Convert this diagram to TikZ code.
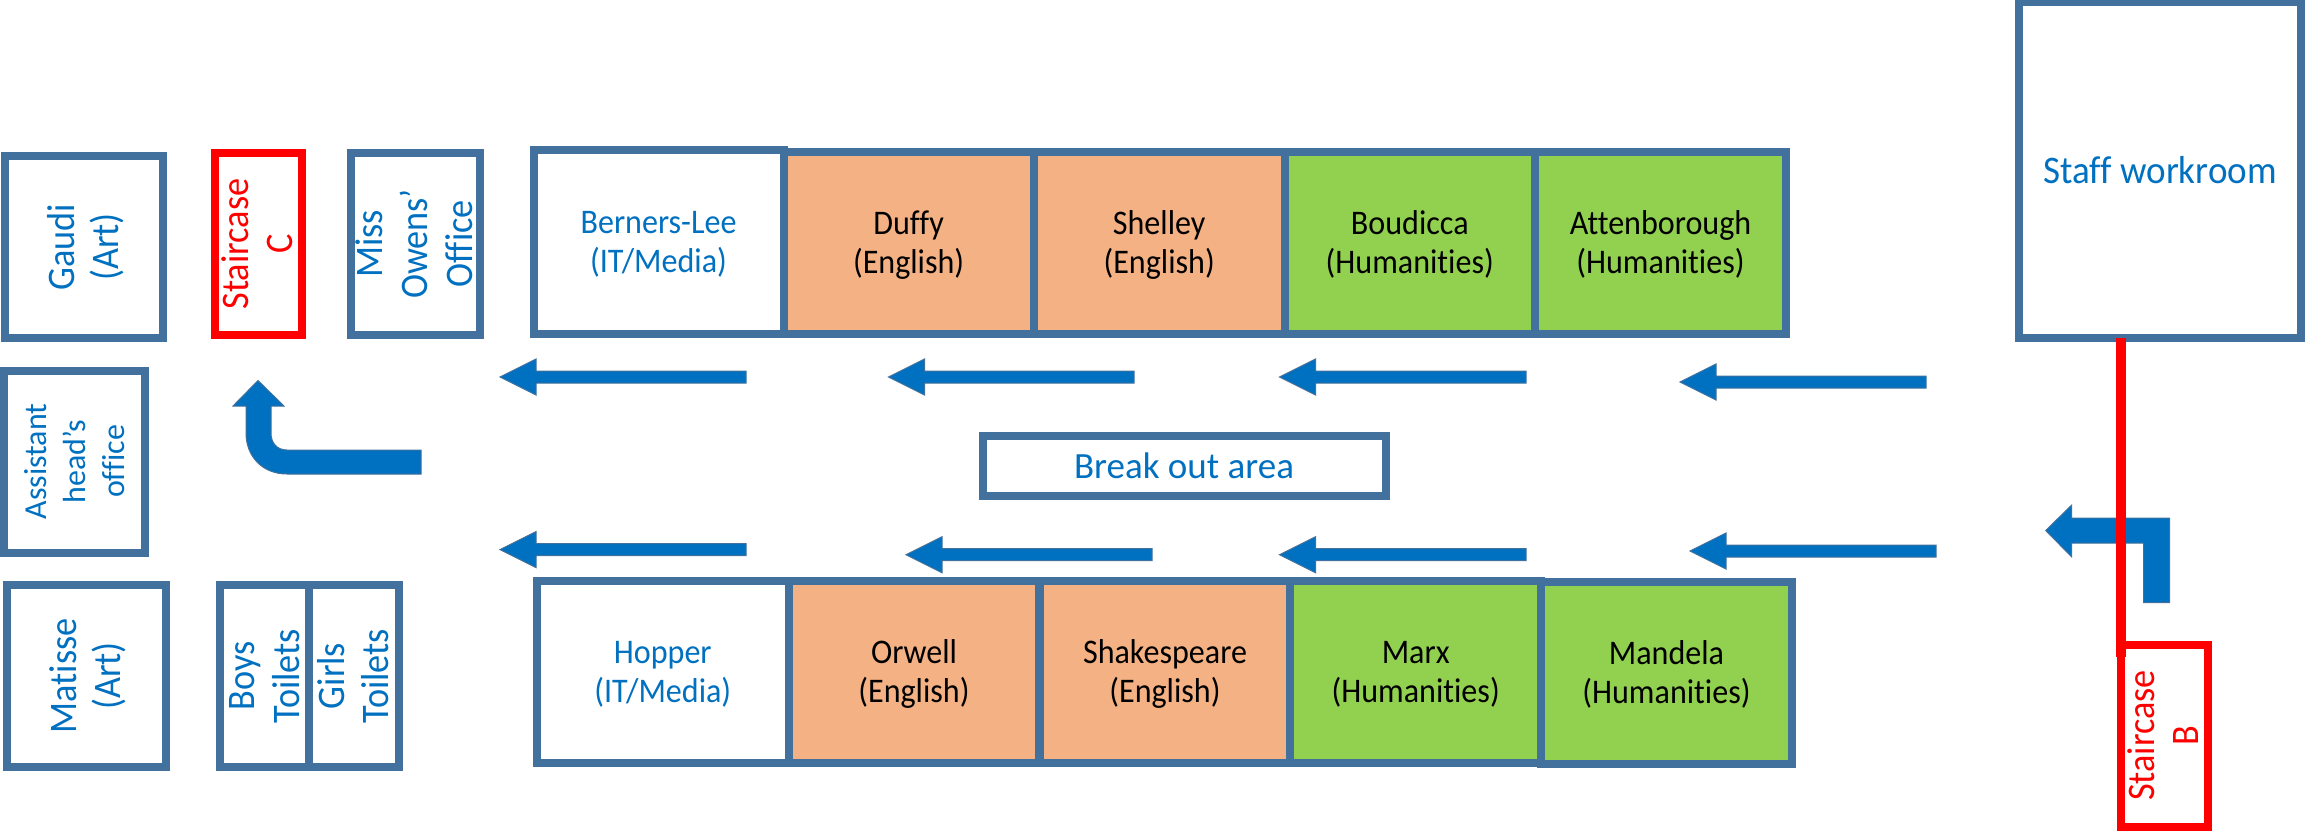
\documentclass[tikz,border=0pt]{standalone}
\usepackage{fontspec}
\setmainfont{Carlito}[Ligatures=NoCommon]
\newfontfamily\roomfont{Carlito}[Ligatures=NoCommon,FakeStretch=0.93]
\newfontfamily\sidefont{Carlito}[Ligatures=NoCommon,FakeStretch=0.93]
\newfontfamily\staffont{Carlito}[Ligatures=NoCommon,FakeStretch=0.95]
\definecolor{edge}{HTML}{41719C}
\definecolor{ink}{HTML}{0070C0}
\definecolor{peach}{HTML}{F4B183}
\definecolor{leaf}{HTML}{92D050}
\newcommand{\flow}[3]{\draw[flowarrow] (#1,#3) -- ++(36,-18) -- ++(0,12) -- (#2,#3-6) -- (#2,#3+6) -- (#1+36,#3+6) -- ++(0,12) -- cycle;}
\newsavebox{\linesbox}
\newcommand{\lines}[1]{\sbox{\linesbox}{\begin{tabular}{@{}c@{}}#1\end{tabular}}\raisebox{\dimexpr-3.5pt-(\ht\linesbox-\dp\linesbox)/2\relax}[0pt][0pt]{\usebox{\linesbox}}}
\tikzset{
  room/.style={draw=edge,line width=8pt,fill=white,text=ink,align=center,inner sep=0pt,outer sep=0pt,font=\roomfont\fontsize{34.5}{38.6}\selectfont},
  english/.style={room,fill=peach,text=black},
  humanities/.style={room,fill=leaf,text=black},
  stair/.style={room,draw=red,text=red},
  upright/.style={rotate=90,font=\sidefont\fontsize{39}{44.6}\selectfont},
  flowarrow/.style={fill=ink,draw=edge,line width=1pt},
  redline/.style={draw=red,line width=9.5pt},
}
\begin{document}
\begin{tikzpicture}[x=1pt,y=-1pt]
\useasboundingbox (0,0) rectangle (2305,832);
% left block
\node[room,upright,minimum width=182pt,minimum height=158pt] (gaudi) at (84,247) {\lines{Gaudi\\(Art)}};
\node[stair,upright,minimum width=182pt,minimum height=87pt] (stairC) at (258,244) {\lines{Staircase\\C}};
\node[room,upright,minimum width=182pt,minimum height=129pt] (owens) at (415,244) {\lines{Miss\\Owens’\\Office}};
\node[room,upright,font=\rmfamily\fontsize{32}{39.3}\selectfont,minimum width=182pt,minimum height=141pt] (assistant) at (74,461.5) {\lines{Assistant\\head’s\\office}};
\node[room,upright,minimum width=182pt,minimum height=159pt] (matisse) at (86,676) {\lines{Matisse\\(Art)}};
\node[room,upright,minimum width=182pt,minimum height=90pt] (boys) at (264.5,676) {\lines{Boys\\Toilets}};
\node[room,upright,minimum width=182pt,minimum height=90pt] (girls) at (354,676) {\lines{Girls\\Toilets}};
% top row
\node[room,minimum width=250pt,minimum height=183pt] (berners) at (658.5,242) {\lines{Berners-Lee\\(IT/Media)}};
\node[english,minimum width=250.3pt,minimum height=182pt] (duffy) at (908.65,243) {\lines{Duffy\\(English)}};
\node[english,minimum width=250.8pt,minimum height=182pt] (shelley) at (1159.2,243) {\lines{Shelley\\(English)}};
\node[humanities,minimum width=250.4pt,minimum height=182pt] (boudicca) at (1409.8,243) {\lines{Boudicca\\(Humanities)}};
\node[humanities,minimum width=251pt,minimum height=182pt] (attenborough) at (1660.5,243) {\lines{Attenborough\\(Humanities)}};
% bottom row
\node[room,minimum width=251.6pt,minimum height=182pt] (hopper) at (662.8,672) {\lines{Hopper\\(IT/Media)}};
\node[english,minimum width=250.9pt,minimum height=182pt] (orwell) at (914,672) {\lines{Orwell\\(English)}};
\node[english,minimum width=250.9pt,minimum height=182pt] (shakespeare) at (1165,672) {\lines{Shakespeare\\(English)}};
\node[humanities,minimum width=250.6pt,minimum height=182pt] (marx) at (1415.7,672) {\lines{Marx\\(Humanities)}};
\node[humanities,minimum width=251pt,minimum height=182pt] (mandela) at (1666.5,673) {\lines{Mandela\\(Humanities)}};
% middle
\node[room,font=\rmfamily\fontsize{37}{40}\selectfont,minimum width=403pt,minimum height=60pt] (breakout) at (1184,466) {Break out area};
\node[room,font=\staffont\fontsize{39}{42}\selectfont,minimum width=282pt,minimum height=335pt] (staff) at (2160,170) {Staff workroom};
% straight flow arrows
\flow{500}{746}{377}
\flow{888.5}{1134}{377}
\flow{1279.5}{1526}{377}
\flow{1680}{1926}{382}
\flow{500}{746}{549.6}
\flow{906}{1152}{554.7}
\flow{1279.5}{1526}{554.7}
\flow{1690}{1936}{551}
% bent arrows
\draw[flowarrow] (258,380.5) -- (284,406) -- (271,406) -- (271,433) .. controls (271,443) and (277,450) .. (287,450) -- (421,450) -- (421,474) -- (287,474) .. controls (262,474) and (246,456) .. (246,433) -- (246,406) -- (233,406) -- cycle;
\draw[flowarrow] (2045.7,530.5) -- (2071.7,505) -- (2071.7,518) -- (2169.7,518) -- (2169.7,602.6) -- (2143.7,602.6) -- (2143.7,543) -- (2071.7,543) -- (2071.7,557) -- cycle;
% staircase B and link
\node[stair,upright,minimum width=182pt,minimum height=87pt] (stairB) at (2164,735.5) {\lines{Staircase\\B}};
\coordinate (linkend) at (2121,657);
\draw[redline] (staff.south -| linkend) -- (linkend);
\end{tikzpicture}
\end{document}
